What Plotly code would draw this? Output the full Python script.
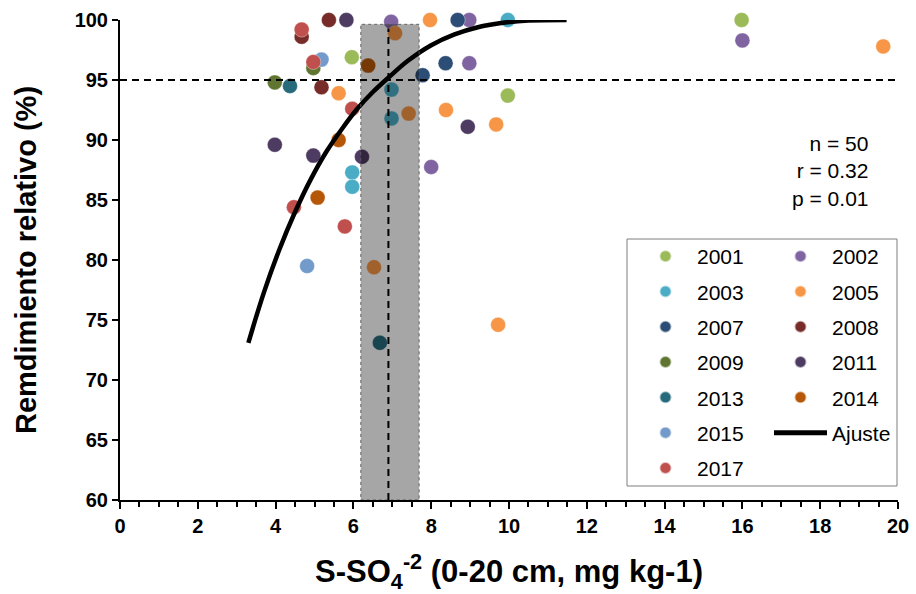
import plotly.graph_objects as go

# ---------------- data ----------------
years = ["2001", "2002", "2003", "2005", "2007", "2008", "2009", "2011", "2013", "2014", "2015", "2017"]
colors = ["#9BBB59", "#8064A2", "#4BACC6", "#F79646", "#2C4D75", "#772C2A",
          "#5F7530", "#4D3B62", "#276A7C", "#B65708", "#729ACA", "#C0504D"]

x_2001 = [5.96, 9.97, 15.98]
y_2001 = [96.9, 93.7, 100.0]
x_2002 = [6.97, 8.98, 8.98, 8.00, 16.00]
y_2002 = [99.85, 100.0, 96.4, 87.75, 98.3]
x_2003 = [9.97, 5.97, 5.97, 6.98, 6.98]
y_2003 = [100.0, 87.3, 86.1, 94.2, 91.8]
x_2005 = [7.97, 5.62, 8.38, 9.67, 9.72, 19.62, 7.07, 7.42, 6.53]
y_2005 = [100.0, 93.9, 92.5, 91.3, 74.6, 97.8, 98.9, 92.2, 79.4]
x_2007 = [8.68, 8.37, 7.78]
y_2007 = [100.0, 96.4, 95.4]
x_2008 = [5.37, 4.67, 5.18]
y_2008 = [100.0, 98.6, 94.4]
x_2009 = [3.98, 4.97]
y_2009 = [94.8, 96.0]
x_2011 = [5.82, 3.98, 4.97, 6.22, 8.94]
y_2011 = [100.0, 89.6, 88.7, 88.6, 91.1]
x_2013 = [4.37, 6.68]
y_2013 = [94.5, 73.1]
x_2014 = [6.38, 5.62, 5.08]
y_2014 = [96.2, 90.0, 85.2]
x_2015 = [5.18, 4.81]
y_2015 = [96.7, 79.5]
x_2017 = [4.67, 4.97, 5.97, 4.47, 5.78]
y_2017 = [99.2, 96.5, 92.6, 84.4, 82.8]

xs = [x_2001, x_2002, x_2003, x_2005, x_2007, x_2008, x_2009, x_2011, x_2013, x_2014, x_2015, x_2017]
ys = [y_2001, y_2002, y_2003, y_2005, y_2007, y_2008, y_2009, y_2011, y_2013, y_2014, y_2015, y_2017]

# fitted curve
fit_x = [3.30, 3.70, 4.10, 4.50, 4.90, 5.30, 5.70, 6.10, 6.50, 6.90, 7.40, 8.00, 8.60, 9.20, 9.80, 10.50, 11.48]
fit_y = [73.1, 77.3, 80.9, 84.0, 86.7, 89.0, 90.9, 92.6, 94.0, 95.2, 96.6, 97.9, 98.8, 99.4, 99.75, 99.95, 100.0]

# critical level band and threshold
band_x = [6.19, 7.69]
band_top = 99.64
crit_x = 6.90
crit_y = 95

stats_text = ["n = 50", "r = 0.32", "p = 0.01"]

# ---------------- figure ----------------
FONT = "Liberation Sans, Arial, sans-serif"
fig = go.Figure()

left_col = ["2001", "2003", "2007", "2009", "2013", "2015", "2017"]

for yr, col, xv, yv in zip(years, colors, xs, ys):
    fig.add_trace(go.Scatter(
        x=xv, y=yv, mode="markers", name=yr,
        marker=dict(size=15, color=col, line=dict(width=0.6, color="rgba(255,255,255,0.6)")),
        cliponaxis=False,
        legend="legend" if yr in left_col else "legend2",
        legendgroup=yr,
    ))

fig.add_trace(go.Scatter(
    x=fit_x, y=fit_y, mode="lines", name="Ajuste",
    line=dict(color="black", width=4.5, shape="spline", smoothing=1.0),
    legend="legend2", legendgroup="fit",
))

# band overlay (multiplicative darkening)
fig.add_shape(type="rect", xref="x", yref="y",
              x0=band_x[0], x1=band_x[1], y0=60, y1=band_top,
              fillcolor="rgba(0,0,0,0.35)",
              line=dict(color="rgba(90,90,90,0.9)", width=1, dash="dot"),
              layer="above")
# threshold lines
fig.add_shape(type="line", xref="x", yref="y", x0=0, x1=20, y0=crit_y, y1=crit_y,
              line=dict(color="black", width=2, dash="7px,5px"), layer="above")
fig.add_shape(type="line", xref="x", yref="y", x0=crit_x, x1=crit_x, y0=60, y1=99.3,
              line=dict(color="black", width=2, dash="7px,5px"), layer="above")

# legend box
fig.add_shape(type="rect", xref="paper", yref="paper",
              x0=(627 - 120) / 778, x1=(897 - 120) / 778,
              y0=(500 - 486) / 480, y1=(500 - 239) / 480,
              line=dict(color="#7F7F7F", width=1), fillcolor="rgba(0,0,0,0)", layer="below")

fig.add_annotation(xref="paper", yref="paper", x=(870 - 120) / 778, y=(500 - 171) / 480,
                   xanchor="right", yanchor="middle", align="right",
                   text="<br>".join(stats_text), showarrow=False,
                   font=dict(family=FONT, size=21, color="black"))

leg_common = dict(
    font=dict(family=FONT, size=21, color="black"),
    bgcolor="rgba(0,0,0,0)", borderwidth=0,
    itemsizing="constant", itemwidth=53,
    tracegroupgap=5, xanchor="left", yanchor="top",
)

fig.update_layout(
    width=916, height=594,
    margin=dict(l=120, r=18, t=20, b=94, autoexpand=False),
    plot_bgcolor="white", paper_bgcolor="white",
    font=dict(family=FONT, color="black"),
    showlegend=True,
    legend=dict(x=(634 - 120) / 778, y=(500 - 236) / 480, **leg_common),
    legend2=dict(x=(769 - 120) / 778, y=(500 - 236) / 480, **leg_common),
    xaxis=dict(
        range=[0, 20], dtick=2, tick0=0, showgrid=False, zeroline=False,
        showline=True, linecolor="black", linewidth=2,
        ticks="outside", ticklen=7, tickwidth=2, tickcolor="black",
        minor=dict(dtick=0.5, ticks="outside", ticklen=5, tickwidth=2, tickcolor="black", showgrid=False),
        tickfont=dict(family=FONT, size=20, color="black", weight="bold"),
        title=dict(text="S-SO<sub>4</sub><sup>-2</sup> (0-20 cm, mg kg-1)",
                   font=dict(family=FONT, size=31, color="black", weight="bold"), standoff=25),
    ),
    yaxis=dict(
        range=[60, 100], dtick=5, tick0=60, showgrid=False, zeroline=False,
        showline=True, linecolor="black", linewidth=2,
        ticks="outside", ticklen=6, tickwidth=2, tickcolor="black",
        tickfont=dict(family=FONT, size=20, color="black", weight="bold"),
        title=dict(text="Remdimiento relativo (%)",
                   font=dict(family=FONT, size=29, color="black", weight="bold"), standoff=29),
    ),
)

fig.write_html("out.html")
